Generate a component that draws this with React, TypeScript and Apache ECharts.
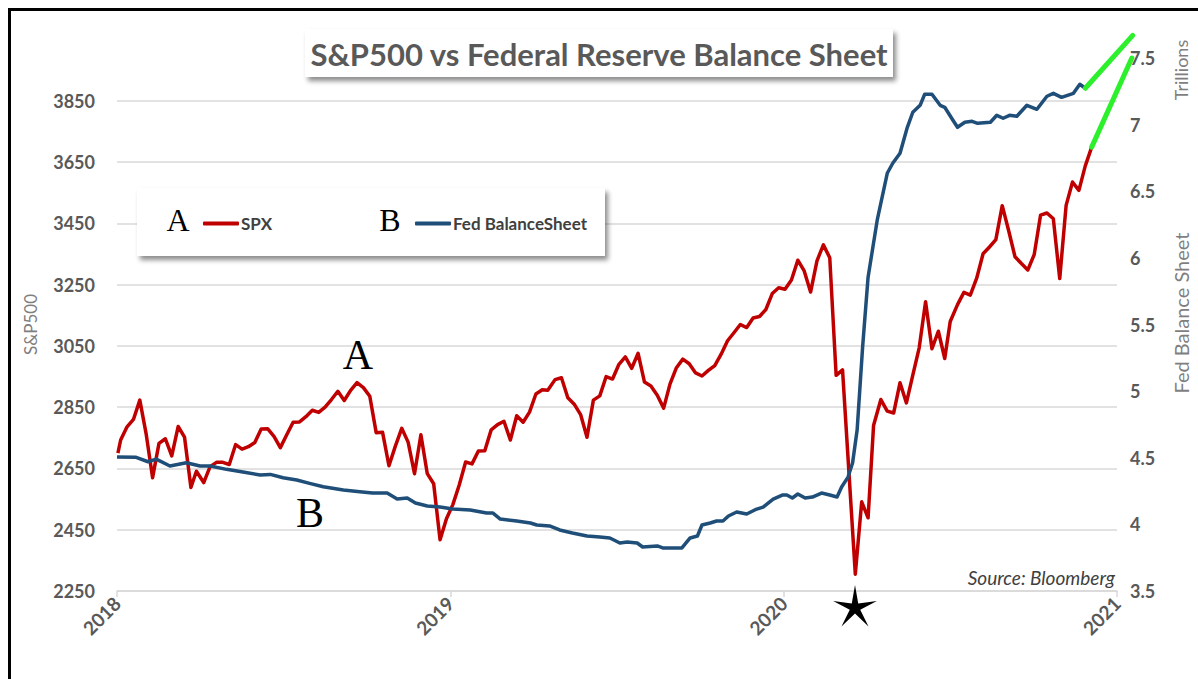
import React, { useEffect, useRef } from "react";
import * as echarts from "echarts";

// ---------- DATA ----------
const spxDates = [
  "2018-01-02","2018-01-05","2018-01-12","2018-01-19","2018-01-26","2018-02-02","2018-02-09","2018-02-16","2018-02-23",
  "2018-03-02","2018-03-09","2018-03-16","2018-03-23","2018-03-29","2018-04-06","2018-04-13","2018-04-20","2018-04-27",
  "2018-05-04","2018-05-11","2018-05-18","2018-05-25","2018-06-01","2018-06-08","2018-06-15","2018-06-22","2018-06-29",
  "2018-07-06","2018-07-13","2018-07-20","2018-07-27","2018-08-03","2018-08-10","2018-08-17","2018-08-24","2018-08-31",
  "2018-09-07","2018-09-14","2018-09-21","2018-09-28","2018-10-05","2018-10-12","2018-10-19","2018-10-26","2018-11-02",
  "2018-11-09","2018-11-16","2018-11-23","2018-11-30","2018-12-07","2018-12-14","2018-12-21","2018-12-28",
  "2019-01-04","2019-01-11","2019-01-18","2019-01-25","2019-02-01","2019-02-08","2019-02-15","2019-02-22","2019-03-01",
  "2019-03-08","2019-03-15","2019-03-22","2019-03-29","2019-04-05","2019-04-12","2019-04-18","2019-04-26","2019-05-03",
  "2019-05-10","2019-05-17","2019-05-24","2019-05-31","2019-06-07","2019-06-14","2019-06-21","2019-06-28","2019-07-05",
  "2019-07-12","2019-07-19","2019-07-26","2019-08-02","2019-08-09","2019-08-16","2019-08-23","2019-08-30","2019-09-06",
  "2019-09-13","2019-09-20","2019-09-27","2019-10-04","2019-10-11","2019-10-18","2019-10-25","2019-11-01","2019-11-08",
  "2019-11-15","2019-11-22","2019-11-29","2019-12-06","2019-12-13","2019-12-20","2019-12-27",
  "2020-01-03","2020-01-10","2020-01-17","2020-01-24","2020-01-31","2020-02-07","2020-02-14","2020-02-21","2020-02-28",
  "2020-03-06","2020-03-20","2020-03-27","2020-04-03","2020-04-09","2020-04-17","2020-04-24","2020-05-01","2020-05-08",
  "2020-05-15","2020-05-22","2020-05-29","2020-06-05","2020-06-12","2020-06-19","2020-06-26","2020-07-02","2020-07-10",
  "2020-07-17","2020-07-24","2020-07-31","2020-08-07","2020-08-14","2020-08-21","2020-08-28","2020-09-04","2020-09-11",
  "2020-09-18","2020-09-25","2020-10-02","2020-10-09","2020-10-16","2020-10-23","2020-10-30","2020-11-06","2020-11-13",
  "2020-11-20","2020-11-27","2020-12-04"
];
const spxValues = [
  2700, 2743, 2786, 2810, 2873, 2762, 2620, 2732, 2747,
  2691, 2787, 2752, 2588, 2641, 2604, 2656, 2670, 2670,
  2663, 2728, 2713, 2721, 2735, 2779, 2780, 2755, 2718,
  2760, 2801, 2802, 2819, 2840, 2833, 2850, 2875, 2902,
  2872, 2905, 2930, 2914, 2886, 2767, 2768, 2659, 2723,
  2781, 2736, 2633, 2760, 2633, 2600, 2417, 2486,
  2532, 2596, 2671, 2665, 2707, 2708, 2776, 2793, 2804,
  2743, 2822, 2801, 2834, 2893, 2907, 2905, 2940, 2946,
  2881, 2860, 2826, 2752, 2873, 2887, 2950, 2942, 2990,
  3014, 2977, 3026, 2932, 2919, 2889, 2847, 2926, 2979,
  3007, 2992, 2962, 2952, 2970, 2986, 3023, 3067, 3093,
  3120, 3110, 3141, 3146, 3169, 3221, 3240,
  3235, 3265, 3330, 3295, 3226, 3328, 3380, 3338, 2954,
  2972, 2305, 2541, 2489, 2790, 2875, 2837, 2831, 2930,
  2864, 2955, 3044, 3194, 3041, 3098, 3009, 3130, 3185,
  3225, 3216, 3271, 3351, 3373, 3397, 3508, 3427, 3341,
  3319, 3298, 3348, 3477, 3484, 3465, 3270, 3509, 3585,
  3558, 3638, 3699
];

const fedDates = [
  "2018-01-01","2018-01-22","2018-02-04","2018-02-13","2018-02-28","2018-03-18","2018-04-02","2018-04-13","2018-05-01",
  "2018-05-19","2018-06-07","2018-06-18","2018-07-02","2018-07-17","2018-07-31","2018-08-15","2018-09-06","2018-09-24",
  "2018-10-08","2018-10-24","2018-11-04","2018-11-15","2018-11-24","2018-12-07","2018-12-21",
  "2019-01-04","2019-01-23","2019-02-10","2019-02-17","2019-02-25","2019-03-15","2019-03-30","2019-04-06","2019-04-20",
  "2019-05-01","2019-05-15","2019-05-31","2019-06-14","2019-06-25","2019-07-06","2019-07-14","2019-07-25","2019-07-31",
  "2019-08-16","2019-08-22","2019-09-12","2019-09-21","2019-09-29","2019-10-04","2019-10-13","2019-10-20","2019-10-27",
  "2019-11-02","2019-11-11","2019-11-22","2019-12-03","2019-12-10","2019-12-21","2019-12-31",
  "2020-01-05","2020-01-11","2020-01-17","2020-01-25","2020-02-02","2020-02-12","2020-02-21","2020-02-29","2020-03-05",
  "2020-03-12","2020-03-17","2020-03-22","2020-03-28","2020-04-03","2020-04-13","2020-04-24","2020-04-30","2020-05-08",
  "2020-05-16","2020-05-22","2020-05-30","2020-06-04","2020-06-12","2020-06-21","2020-06-26","2020-07-05","2020-07-10",
  "2020-07-18","2020-07-26","2020-08-01","2020-08-15","2020-08-22","2020-08-29","2020-09-05","2020-09-13","2020-09-24",
  "2020-10-05","2020-10-16","2020-10-23","2020-11-01","2020-11-14","2020-11-21","2020-11-27"
];
const fedValues = [
  4.505, 4.503, 4.47, 4.49, 4.438, 4.462, 4.438, 4.438, 4.413,
  4.393, 4.37, 4.375, 4.35, 4.333, 4.308, 4.282, 4.258, 4.245,
  4.235, 4.235, 4.19, 4.198, 4.16, 4.138, 4.13,
  4.115, 4.108, 4.085, 4.085, 4.04, 4.025, 4.01, 3.995, 3.988,
  3.958, 3.935, 3.913, 3.905, 3.898, 3.86, 3.868, 3.86, 3.83,
  3.838, 3.823, 3.823, 3.898, 3.913, 3.995, 4.01, 4.025, 4.025,
  4.063, 4.093, 4.078, 4.115, 4.13, 4.19, 4.22,
  4.22, 4.198, 4.228, 4.198, 4.205, 4.235, 4.22, 4.205, 4.28,
  4.355, 4.46, 4.708, 5.33, 5.855, 6.283, 6.635, 6.71, 6.785,
  6.98, 7.093, 7.145, 7.228, 7.228, 7.145, 7.13, 7.033, 6.98,
  7.018, 7.025, 7.01, 7.018, 7.07, 7.048, 7.07, 7.063, 7.145,
  7.115, 7.213, 7.235, 7.205, 7.235, 7.303, 7.273
];

// hand-drawn green projections
const spxProjDates = ["2020-12-04", "2021-01-17"];
const spxProjValues = [3699, 3990];
const fedProjDates = ["2020-11-27", "2021-01-18"];
const fedProjValues = [7.273, 7.67];

const yearLabels = ["2018", "2019", "2020", "2021"];
const spxTicks = { min: 2250, max: 3990, interval: 200 };
const fedTicks = { min: 3.5, max: 7.5, interval: 0.5 };

// ---------- HELPERS ----------
const YEAR_MS = 365.25 * 86400000;
const ts = (d: string) => Date.parse(d);
const pairs = (ds: string[], vs: number[]) => ds.map((d, i) => [ts(d), vs[i]]);

const SANS = "Lato";
const SERIF = "Liberation Serif";
const GREEN = "#2cf02c";

function starPoints(cx: number, cy: number, ro: number, ri: number) {
  const pts: number[][] = [];
  for (let i = 0; i < 10; i++) {
    const r = i % 2 === 0 ? ro : ri;
    const a = -Math.PI / 2 + (i * Math.PI) / 5;
    pts.push([cx + r * Math.cos(a), cy + r * Math.sin(a)]);
  }
  return pts;
}

function projSeries(dates: string[], values: number[], yAxisIndex: number) {
  return {
    type: "custom",
    yAxisIndex,
    clip: false,
    silent: true,
    z: 4,
    encode: { x: [0, 2], y: [1, 3] },
    data: [[ts(dates[0]), values[0], ts(dates[1]), values[1]]],
    renderItem: (_p: any, api: any) => {
      const a = api.coord([api.value(0), api.value(1)]);
      const b = api.coord([api.value(2), api.value(3)]);
      return {
        type: "line",
        shape: { x1: a[0], y1: a[1], x2: b[0], y2: b[1] },
        style: { stroke: GREEN, lineWidth: 5, lineCap: "round" },
      };
    },
  };
}

export default function App() {
  const ref = useRef<HTMLDivElement>(null);
  useEffect(() => {
    if (!ref.current) return;
    const chart = echarts.init(ref.current, null, { renderer: "svg" });
    const xMin = ts(yearLabels[0] + "-01-01");
    const xMax = xMin + (yearLabels.length - 1) * YEAR_MS;
    const labelStyle = { color: "#595959", fontFamily: SANS, fontWeight: "bold" as const, fontSize: 18 };
    const shadow = { shadowBlur: 5, shadowOffsetX: 3, shadowOffsetY: 4, shadowColor: "rgba(0,0,0,0.45)" };
    const legendText = { fontSize: 17, fontWeight: "bold", color: "#404040", fontFamily: SANS, padding: [0, 0, 0, -3] };

    chart.setOption({
      animation: false,
      backgroundColor: "#ffffff",
      title: {
        text: "S&P500 vs Federal Reserve Balance Sheet",
        left: "center",
        top: 33,
        z: 10,
        textStyle: { fontSize: 31, fontWeight: "bold", color: "#595959", fontFamily: SANS },
      },
      legend: [
        {
          data: ["SPX"],
          left: 198,
          top: 210,
          icon: "roundRect",
          itemWidth: 36,
          itemHeight: 4,
          itemGap: 0,
          selectedMode: false,
          z: 10,
          textStyle: legendText,
        },
        {
          data: ["Fed BalanceSheet"],
          left: 410,
          top: 210,
          icon: "roundRect",
          itemWidth: 36,
          itemHeight: 4,
          itemGap: 0,
          selectedMode: false,
          z: 10,
          textStyle: legendText,
        },
      ],
      grid: { left: 117, right: 81, top: 58, bottom: 88 },
      xAxis: {
        type: "value",
        min: xMin,
        max: xMax,
        interval: YEAR_MS,
        axisLine: { show: true, lineStyle: { color: "#d9d9d9", width: 1.5 } },
        axisTick: { show: true, length: 6, lineStyle: { color: "#d9d9d9", width: 1.5 } },
        splitLine: { show: false },
        axisLabel: {
          ...labelStyle,
          fontSize: 19,
          rotate: 45,
          margin: 9,
          showMinLabel: true,
          showMaxLabel: true,
          formatter: (v: number) => String(new Date(v + 43200000).getUTCFullYear()),
        },
      },
      yAxis: [
        {
          type: "value",
          min: spxTicks.min,
          max: spxTicks.max,
          interval: spxTicks.interval,
          name: "S&P500",
          nameLocation: "middle",
          nameGap: 78,
          nameRotate: 90,
          nameTextStyle: { color: "#7f7f7f", fontFamily: SANS, fontSize: 17 },
          axisLine: { show: false },
          axisTick: { show: false },
          axisLabel: { ...labelStyle, margin: 22, showMaxLabel: false, formatter: (v: number) => String(v) },
          splitLine: { show: true, showMaxLine: false, lineStyle: { color: "#d9d9d9", width: 1.5 } },
        },
        {
          type: "value",
          min: fedTicks.min,
          max: fedTicks.max,
          interval: fedTicks.interval,
          position: "right",
          axisLine: { show: false },
          axisTick: { show: false },
          splitLine: { show: false },
          axisLabel: { ...labelStyle, margin: 13, formatter: (v: number) => String(v) },
        },
      ],
      series: [
        {
          name: "SPX",
          type: "line",
          yAxisIndex: 0,
          data: pairs(spxDates, spxValues),
          showSymbol: false,
          symbol: "none",
          color: "#c00000",
          lineStyle: { color: "#c00000", width: 3.5, join: "round" },
          z: 3,
        },
        {
          name: "Fed BalanceSheet",
          type: "line",
          yAxisIndex: 1,
          data: pairs(fedDates, fedValues),
          showSymbol: false,
          symbol: "none",
          color: "#1f4e79",
          lineStyle: { color: "#1f4e79", width: 3.5, join: "round" },
          z: 3,
        },
        projSeries(spxProjDates, spxProjValues, 0),
        projSeries(fedProjDates, fedProjValues, 1),
      ],
      graphic: [
        {
          type: "rect",
          z: 100,
          shape: { x: 9.5, y: 9.5, width: 1400, height: 1000 },
          style: { fill: "none", stroke: "#000", lineWidth: 3 },
        },
        {
          type: "rect",
          z: 8,
          shape: { x: 305, y: 29, width: 588, height: 48 },
          style: { fill: "#fff", ...shadow },
        },
        {
          type: "rect",
          z: 8,
          shape: { x: 137, y: 188, width: 468, height: 68 },
          style: { fill: "#fff", ...shadow },
        },
        {
          type: "text",
          z: 12,
          x: 178,
          y: 220,
          style: { text: "A", fontFamily: SERIF, fontSize: 32, fill: "#000", align: "center", verticalAlign: "middle" },
        },
        {
          type: "text",
          z: 12,
          x: 390,
          y: 220,
          style: { text: "B", fontFamily: SERIF, fontSize: 32, fill: "#000", align: "center", verticalAlign: "middle" },
        },
        {
          type: "text",
          z: 12,
          x: 358,
          y: 355,
          style: { text: "A", fontFamily: SERIF, fontSize: 42, fill: "#000", align: "center", verticalAlign: "middle" },
        },
        {
          type: "text",
          z: 12,
          x: 310,
          y: 513,
          style: { text: "B", fontFamily: SERIF, fontSize: 42, fill: "#000", align: "center", verticalAlign: "middle" },
        },
        {
          type: "polygon",
          z: 12,
          shape: { points: starPoints(855, 608, 23, 5.5) },
          style: { fill: "#000" },
        },
        {
          type: "text",
          z: 12,
          x: 1115,
          y: 577,
          style: {
            text: "Source: Bloomberg",
            fontFamily: SANS,
            fontStyle: "italic",
            fontSize: 19,
            fill: "#404040",
            align: "right",
            verticalAlign: "middle",
          },
        },
        {
          type: "text",
          z: 12,
          x: 1181,
          y: 70,
          rotation: Math.PI / 2,
          style: { text: "Trillions", fontFamily: SANS, fontSize: 18, fill: "#7f7f7f", align: "center", verticalAlign: "middle" },
        },
        {
          type: "text",
          z: 12,
          x: 1181,
          y: 313,
          rotation: Math.PI / 2,
          style: {
            text: "Fed Balance Sheet",
            fontFamily: SANS,
            fontSize: 20,
            fill: "#7f7f7f",
            align: "center",
            verticalAlign: "middle",
          },
        },
      ],
    });
    return () => chart.dispose();
  }, []);

  return (
    <div
      ref={ref}
      style={{ position: "fixed", left: 0, top: 0, width: 1198, height: 679, background: "#fff" }}
    />
  );
}
